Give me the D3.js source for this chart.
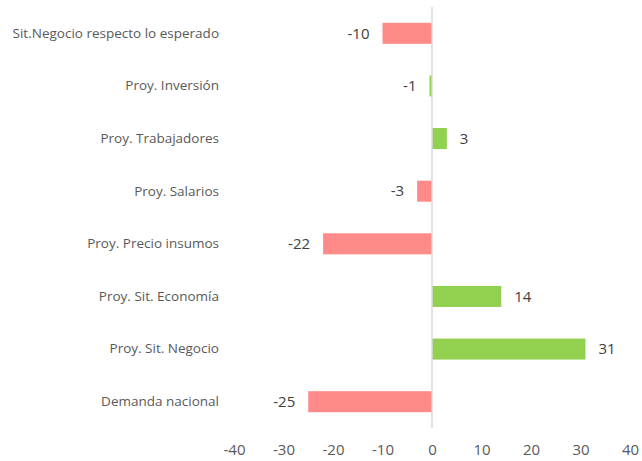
<!DOCTYPE html>
<html>
<head>
<meta charset="utf-8">
<script src="https://cdn.jsdelivr.net/npm/d3@7"></script>
<style>
  html, body { margin: 0; padding: 0; background: #fff; }
  svg { display: block; }
</style>
</head>
<body>
<div id="chart"></div>
<script>
// Horizontal bar chart: balance of expectations per indicator.

const categories = [
  "Sit.Negocio respecto lo esperado",
  "Proy. Inversión",
  "Proy. Trabajadores",
  "Proy. Salarios",
  "Proy. Precio insumos",
  "Proy. Sit. Economía",
  "Proy. Sit. Negocio",
  "Demanda nacional"
];
const values     = [-10, -0.5, 3, -3, -22, 14, 31, -25];
const valueLabels = ["-10", "-1", "3", "-3", "-22", "14", "31", "-25"];
const barColors  = ["#FF8A8A", "#92D050", "#92D050", "#FF8A8A", "#FF8A8A", "#92D050", "#92D050", "#FF8A8A"];
const xTicks     = [-40, -30, -20, -10, 0, 10, 20, 30, 40];

const W = 642, H = 461;
const FONT = "Open Sans, Liberation Sans, sans-serif";
const TEXT = "#595959";

const svg = d3.select("#chart").append("svg")
  .attr("width", W)
  .attr("height", H);

const x = d3.scaleLinear()
  .domain([-40, 40])
  .range([234, 630]);

const y = d3.scaleBand()
  .domain(categories)
  .range([7, 428])
  .paddingInner(0.6)
  .paddingOuter(0.3);

// bars
svg.selectAll(".bar")
  .data(values)
  .join("rect")
    .attr("class", "bar")
    .attr("x", d => x(Math.min(0, d)))
    .attr("y", (d, i) => y(categories[i]))
    .attr("width", d => Math.abs(x(d) - x(0)))
    .attr("height", y.bandwidth())
    .attr("fill", (d, i) => barColors[i]);

// zero line
svg.append("line")
  .attr("x1", x(0)).attr("x2", x(0))
  .attr("y1", 7).attr("y2", 428)
  .attr("stroke", "#D9D9D9")
  .attr("stroke-width", 1.5);

// value labels
svg.selectAll(".val")
  .data(values)
  .join("text")
    .attr("class", "val")
    .attr("x", d => d < 0 ? x(d) - 13 : x(d) + 13)
    .attr("y", (d, i) => y(categories[i]) + y.bandwidth() / 2)
    .attr("dy", "0.35em")
    .attr("text-anchor", d => d < 0 ? "end" : "start")
    .attr("fill", "#404040")
    .attr("font-size", "15px")
    .attr("font-family", FONT)
    .text((d, i) => valueLabels[i]);

// category axis
const yAxisG = svg.append("g")
  .attr("transform", "translate(219,0)")
  .call(d3.axisLeft(y).tickSize(0).tickPadding(0));
yAxisG.select(".domain").remove();
yAxisG.selectAll("text")
  .attr("fill", TEXT)
  .attr("font-size", "13.5px")
  .attr("font-family", FONT);

// value axis
const xAxisG = svg.append("g")
  .attr("transform", "translate(0,444)")
  .call(d3.axisBottom(x).tickValues(xTicks).tickFormat(d => String(d)).tickSize(0).tickPadding(0));
xAxisG.select(".domain").remove();
xAxisG.selectAll("text")
  .attr("fill", TEXT)
  .attr("font-size", "15px")
  .attr("font-family", FONT);
</script>
</body>
</html>
